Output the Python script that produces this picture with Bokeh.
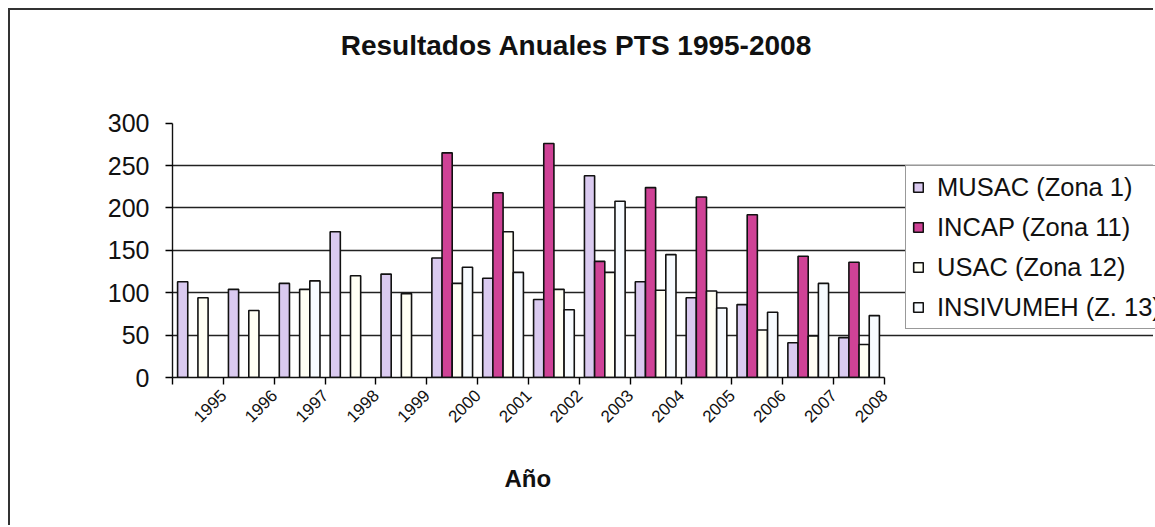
import math
import numpy as np
from bokeh.plotting import figure
from bokeh.models import (ColumnDataSource, FixedTicker, Legend, LegendItem, Range1d,
                          Label, Title)
from bokeh.transform import dodge
from bokeh.embed import file_html
from bokeh.resources import INLINE

years = ["1995", "1996", "1997", "1998", "1999", "2000", "2001",
         "2002", "2003", "2004", "2005", "2006", "2007", "2008"]
musac = [113, 104, 111, 172, 122, 141, 117, 92, 238, 113, 94, 86, 41, 47]
incap = [None, None, None, None, None, 265, 218, 276, 137, 224, 213, 192, 143, 136]
usac = [94, 79, 104, 120, 99, 111, 172, 104, 124, 103, 102, 56, 49, 39]
insivumeh = [None, None, 114, None, None, 130, 124, 80, 208, 145, 82, 77, 111, 73]

series_names = ["MUSAC (Zona 1)", "INCAP (Zona 11)", "USAC (Zona 12)", "INSIVUMEH (Z. 13)"]
colors = ["#dacaf0", "#cf4296", "#fffff4", "#f7fbff"]

def arr(v):
    return np.array([np.nan if x is None else x for x in v], dtype=float)

src = ColumnDataSource(dict(
    pos=np.arange(len(years)) + 0.5,
    musac=arr(musac), incap=arr(incap), usac=arr(usac), insivumeh=arr(insivumeh),
))

FONT = "Liberation Sans"
# canvas placed at (10, 10): 8px page margin + 2px chart-area border
OX, OY = 10, 10
W, H = 1155 - OX, 527 - OY

# plot area of the reference: x 172..884 for the 14 years, y 378..123 for 0..300
AX_L, AX_R, AX_B, AX_T = 172, 884, 378, 123
px_per_cat = (AX_R - AX_L) / len(years)
px_per_unit = (AX_B - AX_T) / 300.0
# frame extends to the right and top edges of the canvas so the legend and title fit inside
x_end = (1155 - AX_L) / px_per_cat
y_end = (AX_B - OY) / px_per_unit

p = figure(width=W, height=H, output_backend="svg", toolbar_location=None,
           x_range=Range1d(0, x_end), y_range=Range1d(0, y_end),
           min_border_left=AX_L - OX, min_border_right=0, min_border_top=0,
           min_border_bottom=527 - AX_B)
p.styles = {"border-left": "2px solid #333333", "border-top": "2px solid #333333",
            "margin-left": "8px", "margin-top": "8px"}
p.outline_line_color = None
p.background_fill_color = "white"
p.border_fill_color = "white"

fields = ["musac", "incap", "usac", "insivumeh"]
offsets = [-0.3, -0.1, 0.1, 0.3]
renderers = []
for f, off, c in zip(fields, offsets, colors):
    r = p.vbar(x=dodge("pos", off, range=p.x_range), top=f, width=0.2, bottom=0,
               source=src, fill_color=c, line_color="#111111", line_width=1.6)
    renderers.append(r)

# grid
p.xgrid.grid_line_color = None
p.ygrid.ticker = FixedTicker(ticks=[50, 100, 150, 200, 250])
p.ygrid.bounds = (0, len(years))
p.ygrid.grid_line_color = "#222222"
p.ygrid.grid_line_width = 1.4
p.ygrid.level = "underlay"

# y axis
p.yaxis.ticker = FixedTicker(ticks=[0, 50, 100, 150, 200, 250, 300])
p.yaxis.bounds = (0, 300)
p.yaxis.major_label_text_font = FONT
p.yaxis.major_label_text_font_size = "25px"
p.yaxis.major_label_text_color = "#111111"
p.yaxis.major_label_standoff = 16
p.yaxis.major_tick_out = 7
p.yaxis.major_tick_in = 0
p.yaxis.minor_tick_line_color = None
p.yaxis.axis_line_color = "#111111"
p.yaxis.axis_line_width = 1.4
p.yaxis.major_tick_line_width = 1.4

# x axis
p.xaxis.ticker = FixedTicker(ticks=list(range(len(years) + 1)))
p.xaxis.bounds = (0, len(years))
ov = {0: ""}
for i, y in enumerate(years):
    ov[i + 1] = y
p.xaxis.major_label_overrides = ov
p.xaxis.major_label_orientation = math.pi / 4
p.xaxis.major_label_text_font = FONT
p.xaxis.major_label_text_font_size = "17px"
p.xaxis.major_label_text_color = "#111111"
p.xaxis.major_label_standoff = 8
p.xaxis.major_tick_out = 7
p.xaxis.major_tick_in = 0
p.xaxis.minor_tick_line_color = None
p.xaxis.axis_line_color = "#111111"
p.xaxis.axis_line_width = 1.4
p.xaxis.major_tick_line_width = 1.4

# x axis title, placed under the plot area
xt = Title(text="Año", align="left", offset=504 - AX_L, standoff=68,
           vertical_align="top",
           text_font=FONT, text_font_size="24px", text_font_style="bold",
           text_color="#111111")
p.add_layout(xt, "below")

# chart title
title = Label(x=(576 - AX_L) / px_per_cat, y=(AX_B - 45) / px_per_unit,
              text="Resultados Anuales PTS 1995-2008", text_font=FONT,
              text_font_size="28px", text_font_style="bold", text_color="#111111",
              text_align="center", text_baseline="middle")
p.add_layout(title)

legend = Legend(items=[LegendItem(label=n, renderers=[r]) for n, r in zip(series_names, renderers)],
                location=(905 - AX_L, AX_B - 330), orientation="vertical")
legend.label_text_font = FONT
legend.label_text_font_size = "25.5px"
legend.label_text_color = "#111111"
legend.label_height = 30
legend.spacing = 10
legend.glyph_width = 12
legend.glyph_height = 12
legend.label_standoff = 13
legend.padding = 6
legend.margin = 0
legend.border_line_color = "#333333"
legend.border_line_width = 1.5
legend.background_fill_alpha = 1.0
p.add_layout(legend, "center")

open("out.html", "w").write(file_html(p, INLINE))
